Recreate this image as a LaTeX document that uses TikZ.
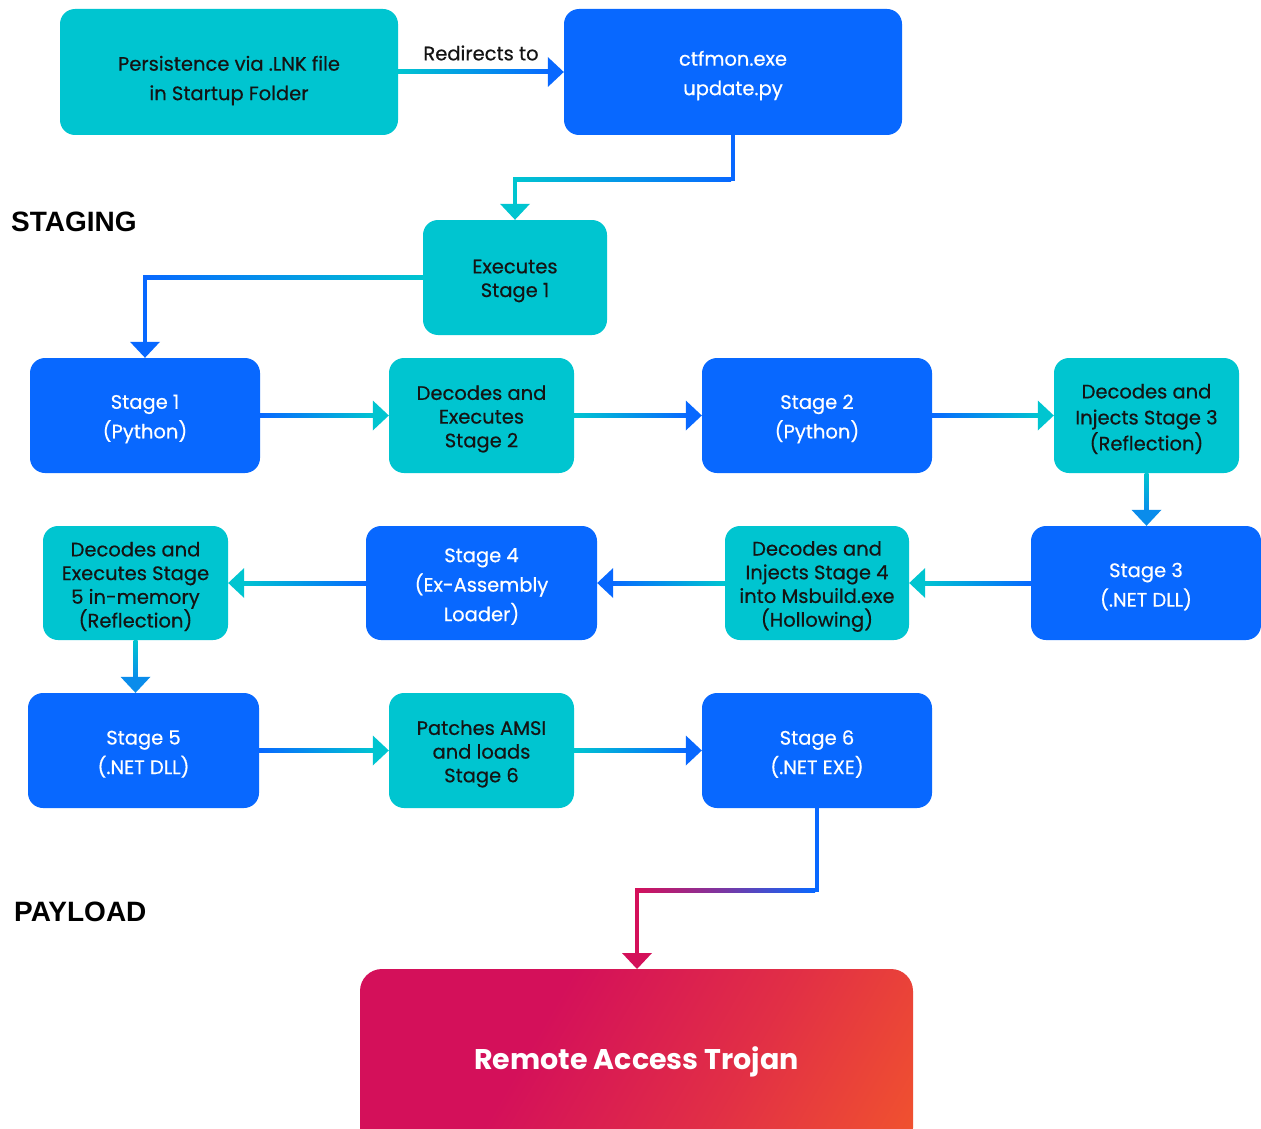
\documentclass[tikz,border=0pt]{standalone}
\usepackage{fontspec}
\setmainfont{Poppins}[UprightFeatures={FakeBold=0.5}]
\newfontfamily\headfont{Liberation Sans}
\usetikzlibrary{calc}
\definecolor{tealc}{RGB}{0,197,208}
\definecolor{bluec}{RGB}{8,104,255}
\definecolor{midc}{RGB}{10,140,235}
\definecolor{pinkc}{RGB}{212,16,90}
\definecolor{orangec}{RGB}{242,86,44}
\definecolor{inkc}{RGB}{20,20,20}
\pgfdeclarehorizontalshading{ratshade}{100bp}{color(0bp)=(pinkc); color(38bp)=(pinkc); color(62bp)=(pinkc!55!orangec); color(86bp)=(orangec); color(100bp)=(orangec)}
\tikzset{
  box/.style={rounded corners=15pt, inner sep=0pt, minimum height=115pt},
  ttext/.style={align=center, inner sep=0pt, text=inkc, font=\fontsize{19.5}{23.7}\selectfont},
  btext/.style={align=center, inner sep=0pt, text=white, font=\fontsize{19.5}{29.5}\selectfont},
  heading/.style={font=\headfont\bfseries\fontsize{28}{30}\selectfont, anchor=west, text=black, inner sep=0pt},
}
% horizontal connector, left to right
\newcommand{\myconnR}[4]{%
  \shade[left color=#3, right color=#4] ($(#1.east)+(0,-2)$) rectangle ($(#2.west)+(-14,2)$);
  \fill[#4] (#2.west) -- ++(-16,-15) -- ++(0,30) -- cycle;}
% horizontal connector, right to left
\newcommand{\myconnL}[4]{%
  \shade[left color=#4, right color=#3] ($(#2.east)+(14,-2)$) rectangle ($(#1.west)+(0,2)$);
  \fill[#4] (#2.east) -- ++(16,-15) -- ++(0,30) -- cycle;}
% vertical connector, downwards (at the x of the source)
\newcommand{\myconnD}[4]{%
  \shade[top color=#3, bottom color=#4] ($(#1.south)+(-2,0)$) rectangle ($(#1.south |- #2.north)+(2,-14)$);
  \fill[#4] (#1.south |- #2.north) -- ++(-15,-16) -- ++(30,0) -- cycle;}
\begin{document}
\begin{tikzpicture}[x=1pt,y=-1pt]
\useasboundingbox[fill=white] (0,0) rectangle (1261,1129);

% boxes
\node[box, fill=tealc, minimum width=338pt, minimum height=126pt] (persist) at (229,72) {};
\node[box, fill=bluec, minimum width=338pt, minimum height=126pt] (ctfmon) at (733,72) {};
\node[box, fill=tealc, minimum width=184pt] (exec1) at (515,277.5) {};
\node[box, fill=bluec, minimum width=230pt] (stage1) at (145,415.5) {};
\node[box, fill=tealc, minimum width=185pt] (dec2) at (481.5,415.5) {};
\node[box, fill=bluec, minimum width=230pt] (stage2) at (817,415.5) {};
\node[box, fill=tealc, minimum width=185pt] (dec3) at (1146.5,415.5) {};
\node[box, fill=bluec, minimum width=230pt, minimum height=114pt] (stage3) at (1146,583) {};
\node[box, fill=tealc, minimum width=184pt, minimum height=114pt] (dec4) at (817,583) {};
\node[box, fill=bluec, minimum width=231pt, minimum height=114pt] (stage4) at (481.5,583) {};
\node[box, fill=tealc, minimum width=185pt, minimum height=114pt] (dec5) at (135.5,583) {};
\node[box, fill=bluec, minimum width=231pt] (stage5) at (143.5,750.5) {};
\node[box, fill=tealc, minimum width=185pt] (patch) at (481.5,750.5) {};
\node[box, fill=bluec, minimum width=230pt] (stage6) at (817,750.5) {};

% box texts
\node[ttext, font=\fontsize{19.5}{29.5}\selectfont] (persistT) at ([yshift=-8.5pt]persist.center) {Persistence via .LNK file\\in Startup Folder};
\node[btext] (ctfmonT) at ([yshift=-3.5pt]ctfmon.center) {ctfmon.exe\\update.py};
\node[ttext] (exec1T) at ([yshift=-3.5pt]exec1.center) {Executes\\Stage 1};
\node[btext] (stage1T) at ([yshift=-3.5pt]stage1.center) {Stage 1\\(Python)};
\node[ttext] (dec2T) at ([yshift=-3.5pt]dec2.center) {Decodes and\\Executes\\Stage 2};
\node[btext] (stage2T) at ([yshift=-3.5pt]stage2.center) {Stage 2\\(Python)};
\node[ttext, font=\fontsize{19.5}{26}\selectfont] (dec3T) at ([yshift=-3.5pt]dec3.center) {Decodes and\\Injects Stage 3\\(Reflection)};
\node[btext] (stage3T) at ([yshift=-3.5pt]stage3.center) {Stage 3\\(.NET DLL)};
\node[ttext] (dec4T) at ([yshift=-3.5pt]dec4.center) {Decodes and\\Injects Stage 4\\into Msbuild.exe\\(Hollowing)};
\node[btext] (stage4T) at ([yshift=-3.5pt]stage4.center) {Stage 4\\(Ex-Assembly\\Loader)};
\node[ttext] (dec5T) at ([yshift=-3.5pt]dec5.center) {Decodes and\\Executes Stage\\5 in-memory\\(Reflection)};
\node[btext] (stage5T) at ([yshift=-3.5pt]stage5.center) {Stage 5\\(.NET DLL)};
\node[ttext] (patchT) at ([yshift=-3.5pt]patch.center) {Patches AMSI\\and loads\\Stage 6};
\node[btext] (stage6T) at ([yshift=-3.5pt]stage6.center) {Stage 6\\(.NET EXE)};

% Remote Access Trojan box with diagonal gradient
\shade[rounded corners=22pt, shading=ratshade, shading angle=-30]
  (360,969) rectangle (913,1150);
\node[inner sep=0pt, text=white, font=\bfseries\fontsize{28.5}{34}\selectfont] (rat) at (636.5,1062) {Remote Access Trojan};
\coordinate (ratTop) at (637,969);

% headings
\node[heading] (staging) at (11,222) {STAGING};
\node[heading] (payload) at (14,912) {PAYLOAD};

% connectors
\myconnR{persist}{ctfmon}{tealc}{bluec}
\node[inner sep=0pt, font=\fontsize{19.5}{22}\selectfont, text=inkc] (redir) at (481,53) {Redirects to};

% ctfmon -> exec1 (elbow)
\coordinate (c1) at (ctfmon.south |- 0,179);
\coordinate (c2) at (exec1.north |- 0,179);
\fill[bluec] ($(ctfmon.south)+(-2,0)$) rectangle ($(c1)+(2,2)$);
\shade[left color=tealc, right color=bluec] ($(c2)+(-2,-2)$) rectangle ($(c1)+(-2,2)$);
\fill[tealc] ($(c2)+(-2,-2)$) rectangle ($(exec1.north)+(2,-14)$);
\fill[tealc] (exec1.north) -- ++(-15,-16) -- ++(30,0) -- cycle;

% exec1 -> stage1 (elbow)
\coordinate (c3) at (stage1.north |- exec1.west);
\shade[left color=bluec, right color=tealc] ($(c3)+(-2,-2)$) rectangle ($(exec1.west)+(0,2)$);
\fill[bluec] ($(c3)+(-2,-2)$) rectangle ($(stage1.north)+(2,-14)$);
\fill[bluec] (stage1.north) -- ++(-15,-16) -- ++(30,0) -- cycle;

\myconnR{stage1}{dec2}{bluec}{tealc}
\myconnR{dec2}{stage2}{tealc}{bluec}
\myconnR{stage2}{dec3}{bluec}{tealc}
\myconnD{dec3}{stage3}{tealc}{midc}
\myconnL{stage3}{dec4}{bluec}{tealc}
\myconnL{dec4}{stage4}{tealc}{bluec}
\myconnL{stage4}{dec5}{bluec}{tealc}
\myconnD{dec5}{stage5}{tealc}{midc}
\myconnR{stage5}{patch}{bluec}{tealc}
\myconnR{patch}{stage6}{tealc}{bluec}

% stage6 -> RAT (elbow)
\coordinate (c5) at (stage6.south |- 0,890);
\coordinate (c6) at (ratTop |- 0,890);
\fill[bluec] ($(stage6.south)+(-2,0)$) rectangle ($(c5)+(2,2)$);
\shade[left color=pinkc, right color=bluec, middle color=pinkc!55!bluec] ($(c6)+(-2,-2)$) rectangle ($(c5)+(-2,2)$);
\fill[pinkc] ($(c6)+(-2,-2)$) rectangle ($(ratTop)+(2,-14)$);
\fill[pinkc] (ratTop) -- ++(-15,-16) -- ++(30,0) -- cycle;
\end{tikzpicture}
\end{document}
